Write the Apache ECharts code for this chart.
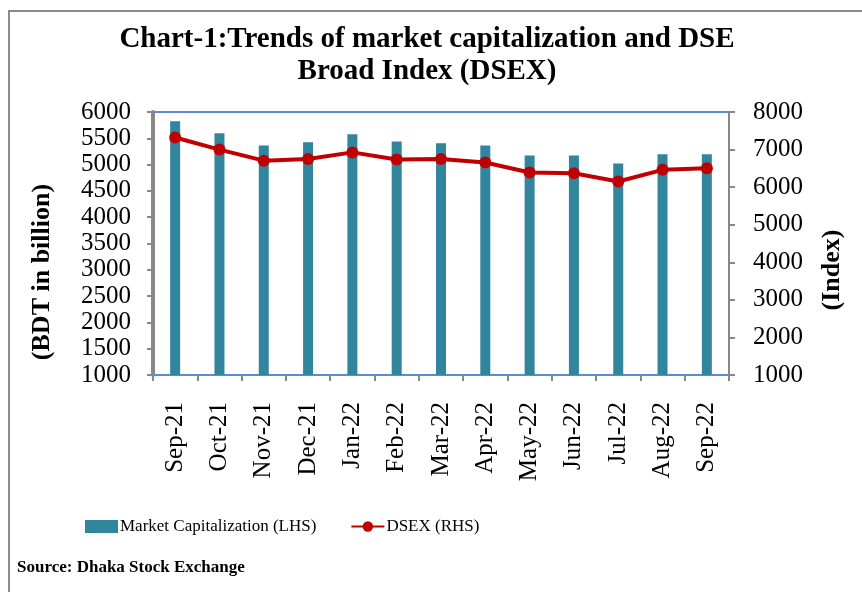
<!DOCTYPE html>
<html>
<head>
    <meta charset="utf-8">
    <title>Market capitalization and DSEX</title>
    <script src="https://cdn.jsdelivr.net/npm/echarts@6/dist/echarts.min.js"></script>
    <style>
        html, body { margin: 0; padding: 0; background: #fff; }
        #main { width: 862px; height: 592px; }
    </style>
</head>
<body>
<div id="main"></div>
<script>
    // data
    var months = ['Sep-21', 'Oct-21', 'Nov-21', 'Dec-21', 'Jan-22', 'Feb-22', 'Mar-22',
        'Apr-22', 'May-22', 'Jun-22', 'Jul-22', 'Aug-22', 'Sep-22'];
    var marketCap = [5825, 5595, 5365, 5425, 5575, 5440, 5405, 5365, 5175, 5175, 5020, 5195, 5195];
    var dsex = [7320, 7000, 6705, 6750, 6925, 6735, 6750, 6655, 6390, 6370, 6150, 6460, 6500];

    var serif = '"Liberation Serif", "Times New Roman", serif';

    var myChart = echarts.init(document.getElementById('main'));

    var option = {
        backgroundColor: '#fff',
        animation: false,
        title: {
            text: 'Chart-1:Trends of market capitalization and DSE\nBroad Index (DSEX)',
            left: 422,
            top: 19,
            textAlign: 'center',
            textStyle: {
                fontFamily: serif,
                fontWeight: 'bold',
                fontSize: 29,
                lineHeight: 32,
                color: '#000'
            }
        },
        graphic: [
            {
                type: 'rect',
                shape: { x: 9, y: 11, width: 880, height: 620 },
                style: { fill: 'none', stroke: '#8c8c8c', lineWidth: 2 },
                silent: true
            },
            {
                // left axis title
                type: 'text',
                x: 42,
                y: 272,
                rotation: Math.PI / 2,
                style: {
                    text: '(BDT in billion)',
                    font: 'bold 26px ' + serif,
                    fill: '#000',
                    align: 'center',
                    verticalAlign: 'middle'
                }
            },
            {
                // right axis title
                type: 'text',
                x: 832,
                y: 270,
                rotation: Math.PI / 2,
                style: {
                    text: '(Index)',
                    font: 'bold 26px ' + serif,
                    fill: '#000',
                    align: 'center',
                    verticalAlign: 'middle'
                }
            },
            {
                type: 'text',
                left: 17,
                top: 559,
                style: {
                    text: 'Source: Dhaka Stock Exchange',
                    font: 'bold 17px ' + serif,
                    fill: '#000'
                }
            }
        ],
        legend: {
            top: 513,
            left: 80,
            itemGap: 34,
            itemWidth: 33,
            itemHeight: 13,
            textStyle: { fontFamily: serif, fontSize: 17, color: '#000', padding: [0, 0, 0, -3] },
            data: [
                { name: 'Market Capitalization (LHS)', icon: 'rect' },
                { name: 'DSEX (RHS)' }
            ]
        },
        grid: {
            left: 153,
            right: 133,
            top: 112,
            bottom: 217,
            show: true,
            borderColor: '#5b8bd0',
            borderWidth: 2,
            backgroundColor: '#fff'
        },
        xAxis: {
            type: 'category',
            data: months,
            axisLine: { lineStyle: { color: '#5b8bd0', width: 2 } },
            axisTick: { show: true, length: 6, lineStyle: { color: '#888', width: 2 } },
            axisLabel: {
                rotate: 90,
                margin: 27,
                fontFamily: serif,
                fontSize: 25,
                color: '#000'
            }
        },
        yAxis: [
            {
                type: 'value',
                min: 1000,
                max: 6000,
                interval: 500,
                axisLine: { show: true, lineStyle: { color: '#888', width: 4 } },
                axisTick: { show: true, length: 6, lineStyle: { color: '#888', width: 2 } },
                axisLabel: {
                    fontFamily: serif, fontSize: 25, color: '#000', margin: 22,
                    formatter: function (v) { return String(v); }
                },
                splitLine: { show: false }
            },
            {
                type: 'value',
                min: 1000,
                max: 8000,
                interval: 1000,
                position: 'right',
                axisLine: { show: true, lineStyle: { color: '#888', width: 2 } },
                axisTick: { show: true, length: 6, lineStyle: { color: '#888', width: 2 } },
                axisLabel: {
                    fontFamily: serif, fontSize: 25, color: '#000', margin: 24,
                    formatter: function (v) { return String(v); }
                },
                splitLine: { show: false }
            }
        ],
        series: [
            {
                name: 'Market Capitalization (LHS)',
                type: 'bar',
                yAxisIndex: 0,
                barWidth: 10,
                itemStyle: { color: '#31859c' },
                data: marketCap
            },
            {
                name: 'DSEX (RHS)',
                type: 'line',
                yAxisIndex: 1,
                symbol: 'circle',
                symbolSize: 12,
                lineStyle: { color: '#c00000', width: 4 },
                itemStyle: { color: '#c00000' },
                data: dsex
            }
        ]
    };

    myChart.setOption(option);
</script>
</body>
</html>
